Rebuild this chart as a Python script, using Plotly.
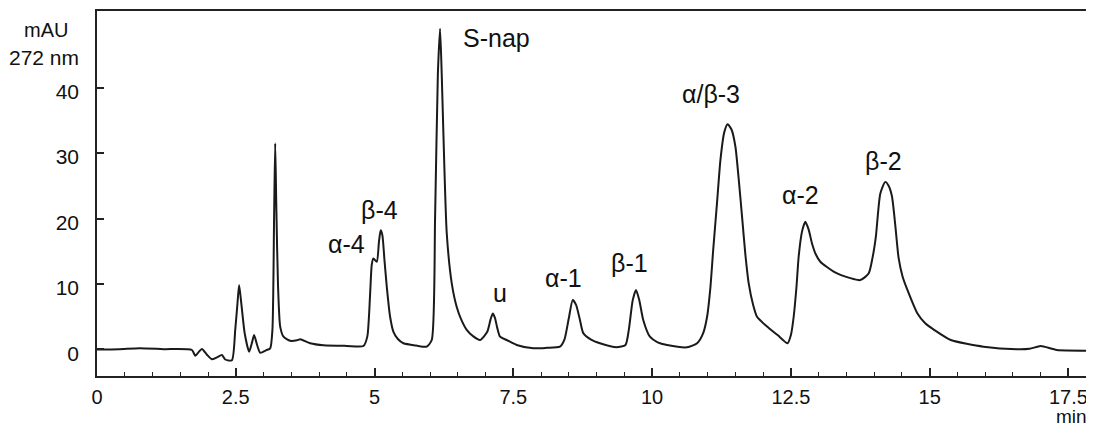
import plotly.graph_objects as go

# Retention time (min) and absorbance (mAU)
time_min = [0, 0.4, 0.77, 1.2, 1.71, 1.77, 1.83, 1.89, 1.98, 2.07, 2.16, 2.25, 2.31, 2.43, 2.49, 2.53,
            2.56, 2.60, 2.66, 2.74, 2.79, 2.83, 2.88, 2.94, 3.05, 3.12, 3.16, 3.19, 3.21, 3.23, 3.26, 3.30,
            3.36, 3.48, 3.60, 3.66, 3.84, 4.08, 4.50, 4.80, 4.87, 4.92, 4.95, 4.98, 5.04, 5.08, 5.11, 5.14,
            5.18, 5.22, 5.28, 5.34, 5.42, 5.52, 5.75, 5.94, 6.03, 6.09, 6.14, 6.18, 6.21, 6.24, 6.30, 6.39,
            6.48, 6.57, 6.66, 6.78, 6.90, 7.03, 7.09, 7.13, 7.17, 7.21, 7.26, 7.38, 7.56, 7.86, 8.10, 8.34,
            8.42, 8.50, 8.57, 8.63, 8.70, 8.76, 8.90, 9.06, 9.36, 9.52, 9.58, 9.65, 9.71, 9.77, 9.84, 9.96,
            10.10, 10.27, 10.63, 10.81, 10.92, 10.99, 11.05, 11.10, 11.17, 11.23, 11.30, 11.36, 11.43, 11.50,
            11.56, 11.62, 11.68, 11.74, 11.82, 11.89, 12.07, 12.26, 12.44, 12.50, 12.55, 12.60, 12.64, 12.70,
            12.76, 12.82, 12.88, 12.95, 13.03, 13.27, 13.57, 13.75, 13.90, 13.97, 14.03, 14.11, 14.20, 14.26,
            14.32, 14.38, 14.44, 14.51, 14.59, 14.78, 14.92, 15.08, 15.38, 15.97, 16.57, 16.80, 17.00, 17.29,
            17.90, 17.96]
signal_mau = [0, 0.05, 0.18, 0.05, -0.08, -0.95, -0.4, 0.08, -0.8, -1.5, -1.2, -0.84, -1.53, -1.65, 3.0, 7.0,
              9.85, 7.0, 2.5, -0.34, 1.0, 2.2, 0.8, -0.5, -0.1, 0.18, 3.0, 20.0, 31.5, 22.0, 10.0, 3.5,
              1.95, 1.34, 1.4, 1.56, 0.95, 0.64, 0.55, 0.53, 2.0, 8.5, 13.0, 13.9, 13.4, 16.5, 18.2, 17.5,
              13.5, 9.6, 5.0, 2.7, 1.6, 0.95, 0.6, 0.43, 1.45, 20.0, 42.0, 49.0, 42.0, 33.0, 17.8, 10.15,
              6.5, 4.4, 3.0, 2.0, 1.45, 2.7, 4.6, 5.5, 4.8, 3.3, 1.95, 1.45, 0.69, 0.18, 0.25, 0.43,
              1.5, 4.8, 7.55, 6.8, 4.5, 2.5, 1.5, 0.95, 0.34, 0.69, 3.0, 7.5, 9.1, 7.5, 4.5, 1.95,
              1.1, 0.69, 0.34, 0.95, 2.5, 5.0, 9.5, 15.2, 22.5, 28.9, 33.2, 34.4, 33.6, 31.0,
              26.0, 20.3, 14.5, 10.1, 6.8, 5.0, 3.5, 2.2, 0.95, 2.2, 5.0, 9.5, 14.2, 18.0,
              19.5, 18.3, 16.2, 14.5, 13.4, 11.9, 10.9, 10.6, 11.6, 14.0, 17.2, 23.8, 25.6, 25.0,
              23.4, 19.0, 14.0, 11.2, 9.3, 5.5, 4.0, 3.0, 1.45, 0.43, 0.03, 0.1, 0.53, -0.08,
              -0.18, -0.18]

# Peak labels and their positions (min, mAU)
peak_labels = ["α-4", "β-4", "S-nap", "u", "α-1", "β-1", "α/β-3", "α-2", "β-2"]
label_time = [4.49, 5.08, 6.55, 7.26, 8.40, 9.59, 11.06, 12.67, 14.16]
label_mau = [16.06, 21.25, 47.56, 8.58, 10.87, 13.2, 39.0, 23.65, 28.84]
label_anchor = ["center", "center", "left", "center", "center", "center", "center", "center", "center"]

x_tickvals = [0, 2.5, 5, 7.5, 10, 12.5, 15, 17.5]
x_ticktext = ["0", "2.5", "5", "7.5", "10", "12.5", "15", "17.5"]
y_tickvals = [0, 10, 20, 30, 40]
y_ticktext = ["0", "10", "20", "30", "40"]

FONT = "Liberation Sans, Arial, sans-serif"
INK = "#111111"

fig = go.Figure()
fig.add_trace(go.Scatter(
    x=time_min, y=signal_mau, mode="lines",
    line=dict(color="#1a1a1a", width=2, shape="spline", smoothing=0.6),
    showlegend=False, hoverinfo="skip"))

for txt, t, v, anc in zip(peak_labels, label_time, label_mau, label_anchor):
    fig.add_annotation(x=t, y=v, xref="x", yref="y", text=txt, showarrow=False,
                       xanchor=anc, yanchor="middle",
                       font=dict(family=FONT, size=25, color=INK))

fig.add_annotation(x=-0.0507, y=0.949, xref="paper", yref="paper", text="mAU", showarrow=False,
                   xanchor="center", yanchor="middle", font=dict(family=FONT, size=20, color=INK))
fig.add_annotation(x=-0.0532, y=0.872, xref="paper", yref="paper", text="272 nm", showarrow=False,
                   xanchor="center", yanchor="middle", font=dict(family=FONT, size=21, color=INK))
fig.add_annotation(x=0.977, y=-0.1123, xref="paper", yref="paper", text="min", showarrow=False,
                   xanchor="center", yanchor="middle", font=dict(family=FONT, size=19, color=INK))

# The page body has an 8px margin, so the figure is 8px smaller than the window.
fig.update_layout(
    width=1086, height=420,
    margin=dict(l=89, r=0, t=3, b=52, autoexpand=False),
    paper_bgcolor="white", plot_bgcolor="white",
    xaxis=dict(range=[0, 17.96], showgrid=False, zeroline=False,
               showline=True, linecolor="#222", linewidth=1.5, mirror=True,
               ticks="inside", ticklen=8, tickwidth=1.5, tickcolor="#222",
               tickvals=x_tickvals, ticktext=x_ticktext,
               minor=dict(dtick=0.5, tick0=0, ticks="inside", ticklen=4, tickwidth=1.3, tickcolor="#222"),
               tickfont=dict(family=FONT, size=20, color=INK), ticklabelstandoff=2),
    yaxis=dict(range=[-4.05, 51.7], showgrid=False, zeroline=False,
               showline=True, linecolor="#222", linewidth=1.5,
               ticks="inside", ticklen=7, tickwidth=1.5, tickcolor="#222",
               tickvals=y_tickvals, ticktext=y_ticktext,
               tickfont=dict(family=FONT, size=21, color=INK),
               ticklabelstandoff=12, ticklabelshift=4),
)

fig.write_html("out.html")
